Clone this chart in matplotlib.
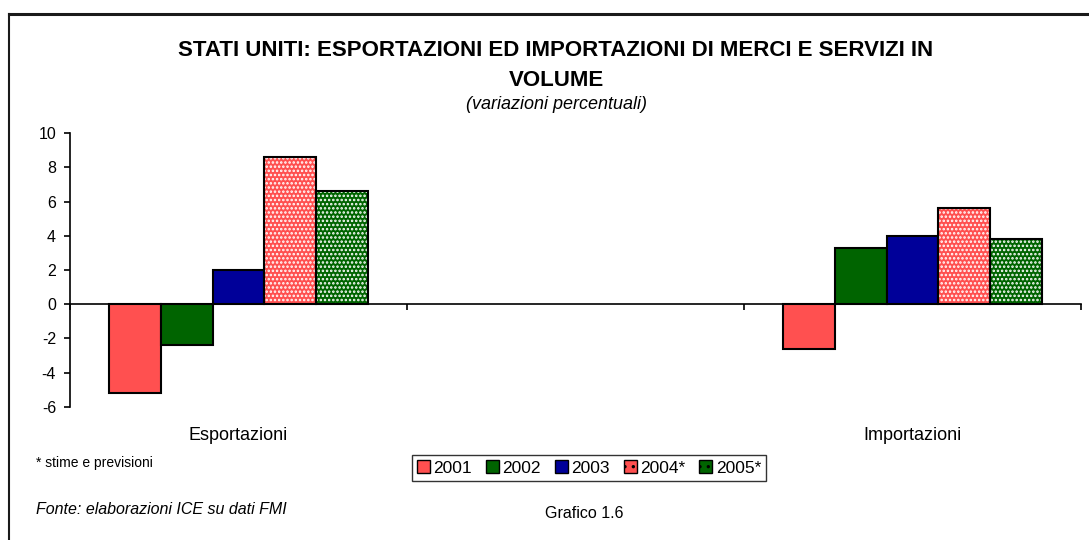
import numpy as np
import matplotlib
matplotlib.use("Agg")
import matplotlib.pyplot as plt
from matplotlib.patches import Patch
from matplotlib.lines import Line2D
from matplotlib.transforms import blended_transform_factory

plt.rcParams['font.family'] = ['Liberation Sans', 'DejaVu Sans']
plt.rcParams['hatch.color'] = 'white'
plt.rcParams['hatch.linewidth'] = 1.2

categories = ["Esportazioni", "", "Importazioni"]
years = ["2001", "2002", "2003", "2004*", "2005*"]
v2001 = [-5.2, np.nan, -2.6]
v2002 = [-2.4, np.nan, 3.3]
v2003 = [2.0, np.nan, 4.0]
v2004 = [8.6, np.nan, 5.6]
v2005 = [6.6, np.nan, 3.8]
series = [v2001, v2002, v2003, v2004, v2005]
colors = ["#FF5050", "#006400", "#000099", "#FF5050", "#006400"]
hatches = [None, None, None, "....", "...."]
yticks = [-6, -4, -2, 0, 2, 4, 6, 8, 10]

W, H = 1089, 540
fig = plt.figure(figsize=(W / 100, H / 100), dpi=100)
ax = fig.add_axes([70 / W, 1 - 406.7 / H, (1081 - 70) / W, (406.7 - 133.3) / H])

x = np.arange(len(categories))
bw = 1 / (len(years) + 1.5)
for j, (vals, c, h) in enumerate(zip(series, colors, hatches)):
    pos = x + (j - (len(years) - 1) / 2) * bw
    if h:
        ax.bar(pos, vals, bw, color=c, hatch=h, edgecolor='white', linewidth=0, zorder=2)
        ax.bar(pos, vals, bw, fill=False, edgecolor='black', linewidth=1.5, zorder=3)
    else:
        ax.bar(pos, vals, bw, color=c, edgecolor='black', linewidth=1.5, zorder=3)

ax.set_xlim(-0.5, len(categories) - 0.5)
ax.set_ylim(-6, 10)
ax.set_yticks(yticks)
ax.set_yticklabels([str(t) for t in yticks], fontsize=11.5)
ax.tick_params(axis='y', direction='out', length=4, width=1.2, pad=6)
ax.spines['top'].set_visible(False)
ax.spines['right'].set_visible(False)
ax.spines['left'].set_linewidth(1.2)
ax.spines['bottom'].set_position(('data', 0))
ax.spines['bottom'].set_linewidth(1.2)
ax.set_xticks(np.arange(-0.5, len(categories) - 0.4, 1.0))
ax.set_xticklabels([])
ax.tick_params(axis='x', direction='out', length=4, width=1.2)

trans = blended_transform_factory(ax.transData, fig.transFigure)
for i, cat in enumerate(categories):
    if cat:
        ax.text(i, 1 - 436 / H, cat, transform=trans, ha='center', va='center', fontsize=13)

fig.text(556 / W, 1 - 51 / H, "STATI UNITI: ESPORTAZIONI ED IMPORTAZIONI DI MERCI E SERVIZI IN",
         ha='center', va='center', fontsize=16, fontweight='bold')
fig.text(556 / W, 1 - 80.5 / H, "VOLUME", ha='center', va='center', fontsize=16, fontweight='bold')
fig.text(556 / W, 1 - 104 / H, "(variazioni percentuali)", ha='center', va='center',
         fontsize=13, style='italic')
fig.text(36 / W, 1 - 463 / H, "* stime e previsioni", ha='left', va='center', fontsize=10)
fig.text(36 / W, 1 - 509 / H, "Fonte: elaborazioni ICE su dati FMI", ha='left', va='center',
         fontsize=11.5, style='italic')
fig.text(584 / W, 1 - 514 / H, "Grafico 1.6", ha='center', va='center', fontsize=11.5)

handles = [Patch(facecolor=c, edgecolor='black', hatch=('..' if h else None), linewidth=1.0)
           for c, h in zip(colors, hatches)]
leg = fig.legend(handles, years, loc='center', bbox_to_anchor=(589 / W, 1 - 468 / H), ncol=5,
                 fontsize=12.5, frameon=True, fancybox=False, edgecolor='black',
                 handlelength=0.75, handleheight=0.75, handletextpad=0.2, columnspacing=0.8,
                 borderpad=0.3, borderaxespad=0)
leg.get_frame().set_linewidth(1.0)

fig.add_artist(Line2D([9 / W, 1], [1 - 14 / H, 1 - 14 / H], color='#1a1a1a', lw=2.2))
fig.add_artist(Line2D([9 / W, 9 / W], [0, 1 - 14 / H], color='#1a1a1a', lw=1.5))

fig.savefig("out.png", dpi=100)
